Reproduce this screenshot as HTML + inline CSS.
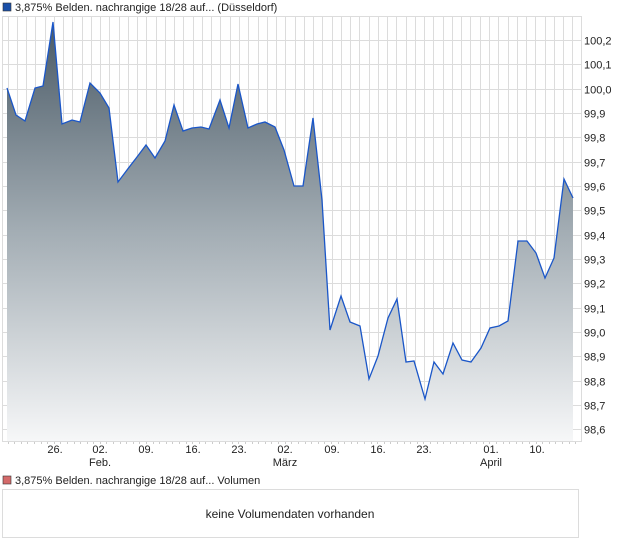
<!DOCTYPE html>
<html><head><meta charset="utf-8"><style>
body{margin:0;width:620px;height:546px;background:#fff;font-family:"Liberation Sans",sans-serif;overflow:hidden}
svg text{font-family:"Liberation Sans",sans-serif;font-size:11px;fill:#222}
</style></head><body>
<svg width="620" height="546" viewBox="0 0 620 546">
<defs><linearGradient id="g" gradientUnits="userSpaceOnUse" x1="0" y1="22" x2="0" y2="441">
<stop offset="0" stop-color="#4a5a66"/><stop offset="0.5" stop-color="#a3adb4"/><stop offset="1" stop-color="#f6f7f8"/></linearGradient></defs>
<rect x="3" y="3" width="8" height="8" fill="#1a4fa8" stroke="#333" stroke-width="0.6"/>
<text x="15" y="11">3,875% Belden. nachrangige 18/28 auf... (Düsseldorf)</text>
<g stroke="#dcdcdc" stroke-width="1" id="grid"></g>
<rect x="2.5" y="16.5" width="579" height="425" fill="none" stroke="#dcdcdc"/>
<polygon id="area" fill="url(#g)"/>
<polyline id="line" fill="none" stroke="#1a56c8" stroke-width="1.3"/>
<g id="ticks" stroke="#ccc"></g>
<g id="ylab"></g>
<g text-anchor="middle">
<text x="55" y="453">26.</text><text x="100" y="453">02.</text><text x="146" y="453">09.</text><text x="193" y="453">16.</text><text x="239" y="453">23.</text><text x="285" y="453">02.</text><text x="332" y="453">09.</text><text x="378" y="453">16.</text><text x="424" y="453">23.</text><text x="491" y="453">01.</text><text x="537" y="453">10.</text>
<text x="100" y="466">Feb.</text><text x="285" y="466">März</text><text x="491" y="466">April</text>
</g>
<rect x="3" y="476" width="8" height="8" fill="#d46a6a" stroke="#333" stroke-width="0.6"/>
<text x="15" y="484">3,875% Belden. nachrangige 18/28 auf... Volumen</text>
<rect x="2.5" y="489.5" width="576" height="48" fill="none" stroke="#dcdcdc"/>
<text x="290" y="518" text-anchor="middle" style="font-size:12px">keine Volumendaten vorhanden</text>
</svg>
<script>
var pts=[[7,88],[16,115],[25,121],[35,88],[43,86],[53,22],[62,124],[72,120],[80,122],[90,83],[100,93],[109,108],[118,182],[127,170],[137,157],[146,145],[155,158],[165,141],[174,105],[183,131],[192,128],[201,127],[209,129],[220,100],[229,128],[238,84],[248,128],[257,124],[265,122],[275,127],[284,150],[294,186],[303,186],[313,118],[322,200],[330,330],[341,296],[350,322],[360,326],[369,379],[378,356],[388,318],[397,299],[406,362],[414,361],[425,399],[434,362],[443,374],[453,343],[462,360],[471,362],[481,348],[490,328],[499,326],[508,321],[518,241],[527,241],[536,253],[545,278],[554,258],[564,179],[573,198]];
var s=pts.map(p=>p.join(',')).join(' ');
document.getElementById('line').setAttribute('points',s);
document.getElementById('area').setAttribute('points',s+' 573,441 7,441');
var ns='http://www.w3.org/2000/svg',g=document.getElementById('grid'),yl=document.getElementById('ylab'),tk=document.getElementById('ticks');
for(var x=7.5;x<581;x+=9.26){var l=document.createElementNS(ns,'line');l.setAttribute('x1',Math.round(x)+.5);l.setAttribute('x2',Math.round(x)+.5);l.setAttribute('y1',17);l.setAttribute('y2',441);g.appendChild(l);}
for(var x=7.5;x<581;x+=6.6){var l=document.createElementNS(ns,'line');l.setAttribute('x1',Math.round(x)+.5);l.setAttribute('x2',Math.round(x)+.5);l.setAttribute('y1',442);l.setAttribute('y2',444);tk.appendChild(l);}
var labs=['100,2','100,1','100,0','99,9','99,8','99,7','99,6','99,5','99,4','99,3','99,2','99,1','99,0','98,9','98,8','98,7','98,6'];
for(var i=0;i<17;i++){var y=Math.round(40+i*24.33)+.5;var l=document.createElementNS(ns,'line');l.setAttribute('x1',3);l.setAttribute('x2',581);l.setAttribute('y1',y);l.setAttribute('y2',y);g.appendChild(l);
var t=document.createElementNS(ns,'text');t.setAttribute('x',584);t.setAttribute('y',y+4);t.textContent=labs[i];yl.appendChild(t);}
</script>
</body></html>
